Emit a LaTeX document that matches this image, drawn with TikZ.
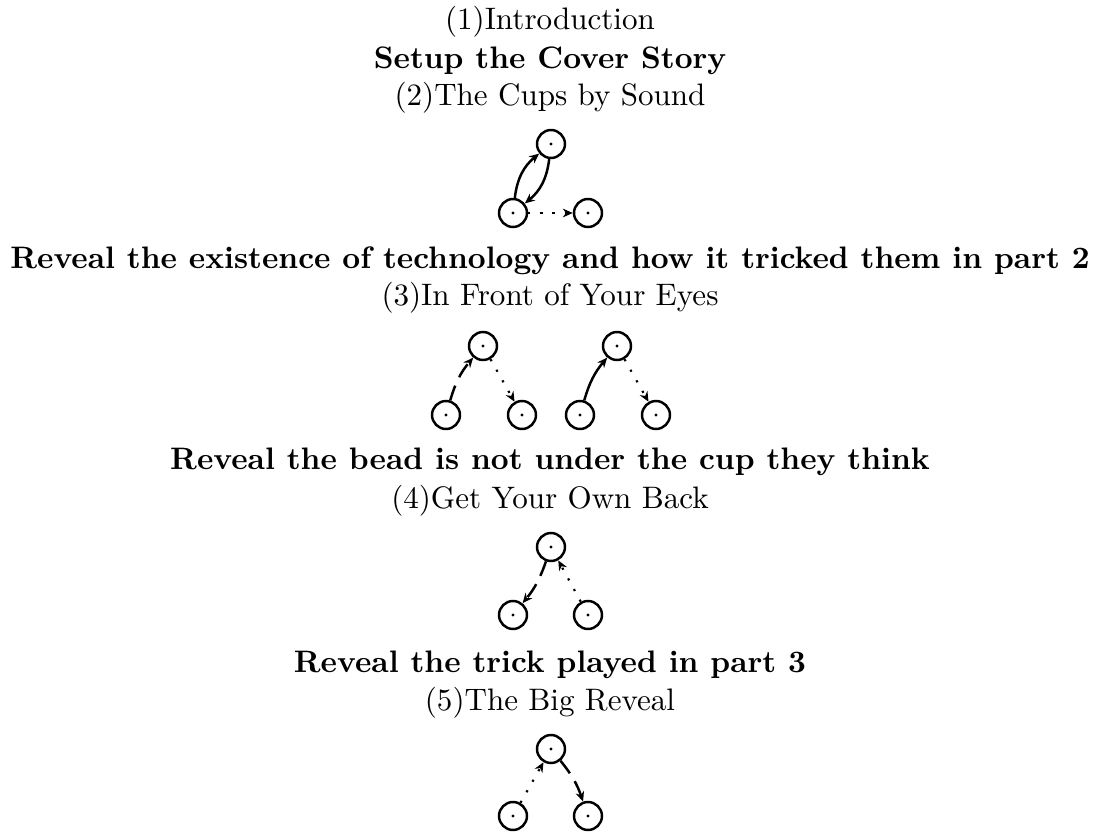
\documentclass[tikz,border=0pt]{standalone}
\usetikzlibrary{arrows.meta}
\begin{document}
\begin{tikzpicture}[x=0.3219pt,y=-0.3219pt,
  cup/.style={circle,draw,thick,minimum size=9pt,inner sep=0pt,
    path picture={\fill (path picture bounding box.center) circle (0.55pt);}},
  lbl/.style={anchor=base,inner sep=0pt},
  ttl/.style={anchor=base,inner sep=0pt,font=\bfseries},
  arr/.style={thick,-{Stealth[length=3.2pt,width=2.8pt]}},
  dotarr/.style={arr,line width=0.7pt,dash pattern=on 0.7pt off 3.2pt},
  dasharr/.style={arr,dash pattern=on 5pt off 3pt}]
\useasboundingbox (0,0) rectangle (1099,832);
% texts
\node[lbl] (t1) at (550,30) {(1)Introduction};
\node[ttl] (t2) at (550,68) {Setup the Cover Story};
\node[lbl] (t3) at (550,106) {(2)The Cups by Sound};
\node[ttl] (t4) at (550,268) {Reveal the existence of technology and how it tricked them in part 2};
\node[lbl] (t5) at (550,306) {(3)In Front of Your Eyes};
\node[ttl] (t6) at (550,470) {Reveal the bead is not under the cup they think};
\node[lbl] (t7) at (550,508) {(4)Get Your Own Back};
\node[ttl] (t8) at (550,672) {Reveal the trick played in part 3};
\node[lbl] (t9) at (550,710) {(5)The Big Reveal};
% diagram 1
\node[cup] (a1) at (551,144) {};
\node[cup] (b1) at (513,213) {};
\node[cup] (c1) at (588,213) {};
\draw[arr] (b1) to[bend left=22] (a1);
\draw[arr] (a1) to[bend left=22] (b1);
\draw[dotarr] (b1) -- (c1);
% diagram 2 left
\node[cup] (a2) at (483,346) {};
\node[cup] (b2) at (446,415) {};
\node[cup] (c2) at (522,415) {};
\draw[dasharr] (b2) to[bend left=12] (a2);
\draw[dotarr] (a2) -- (c2);
% diagram 2 right
\node[cup] (a3) at (617,346) {};
\node[cup] (b3) at (580,415) {};
\node[cup] (c3) at (656,415) {};
\draw[arr] (b3) to[bend left=12] (a3);
\draw[dotarr] (a3) -- (c3);
% diagram 3
\node[cup] (a4) at (551,547) {};
\node[cup] (b4) at (513,615) {};
\node[cup] (c4) at (588,615) {};
\draw[dasharr] (a4) to[bend left=10] (b4);
\draw[dotarr] (c4) -- (a4);
% diagram 4
\node[cup] (a5) at (551,749) {};
\node[cup] (b5) at (513,816) {};
\node[cup] (c5) at (588,816) {};
\draw[dotarr] (b5) -- (a5);
\draw[dasharr] (a5) to[bend left=10] (c5);
\end{tikzpicture}
\end{document}
